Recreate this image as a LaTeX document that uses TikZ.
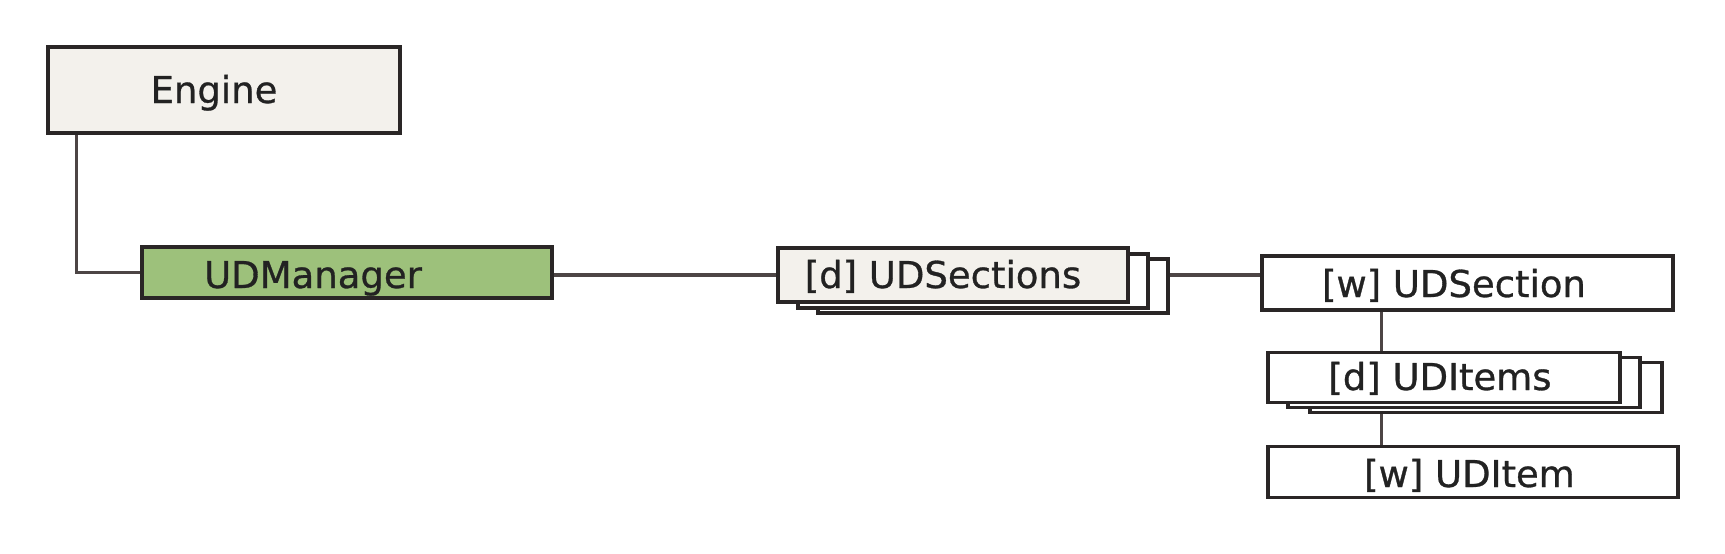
\documentclass[tikz,border=0pt]{standalone}
\usepackage{fontspec}
\setmainfont{DejaVu Sans}
\newfontfamily\lblfont{DejaVu Sans}[FakeBold=0.8]
\usetikzlibrary{calc}
\definecolor{boxline}{HTML}{2A2626}
\definecolor{conn}{HTML}{4D4545}
\definecolor{beige}{HTML}{F3F1EC}
\definecolor{mgrgreen}{HTML}{9DC17B}
\definecolor{txt}{HTML}{222222}
\tikzset{
  box/.style={draw=boxline, line width=3.5pt, inner sep=0pt, fill=white},
  lbl/.style={inner sep=0pt, anchor=base, text=txt, font=\lblfont\fontsize{37}{44}\selectfont},
  wire/.style={draw=conn, line width=3.5pt}
}
\begin{document}
\begin{tikzpicture}[x=1pt,y=1pt]
\useasboundingbox (0,0) rectangle (1725,-554);
% Engine
\node[box, fill=beige, minimum width=352pt, minimum height=86pt] (eng) at (224,-90) {};
\node[lbl] (engt) at (214,-103) {Engine};
% UDManager
\node[box, fill=mgrgreen, minimum width=410pt, minimum height=51pt] (mgr) at (347,-272.5) {};
\node[lbl] (mgrt) at (313,-288) {UDManager};
% UDSections stack
\node[box, minimum width=350pt, minimum height=54pt] (sec3) at (993,-286) {};
\node[box, minimum width=350pt, minimum height=54pt] (sec2) at (973,-281) {};
\node[box, fill=beige, minimum width=350pt, minimum height=54pt] (sec1) at (953,-275) {};
\node[lbl] (sect) at (943,-288) {[d] UDSections};
% UDSection
\node[box, minimum width=411pt, minimum height=54pt] (usec) at (1467.5,-283) {};
\node[lbl] (usect) at (1454,-297) {[w] UDSection};
% UDItems stack
\node[box, minimum width=352pt, minimum height=50pt] (it3) at (1486,-387.5) {};
\node[box, minimum width=352pt, minimum height=50pt] (it2) at (1464,-382.5) {};
\node[box, minimum width=352pt, minimum height=50pt] (it1) at (1444,-377.5) {};
\node[lbl] (itt) at (1440,-390) {[d] UDItems};
% UDItem
\node[box, minimum width=410pt, minimum height=51pt] (item) at (1473,-472) {};
\node[lbl] (itemt) at (1469.5,-487) {[w] UDItem};
% connectors
\coordinate (engdrop) at ($(eng.south west)+(30,0)$);
\draw[wire] (engdrop) |- (mgr.west);
\draw[wire] (sec1.west -| mgr.east) -- (sec1.west);
\draw[wire] (sec1.east -| sec3.east) -- (sec1.east -| usec.west);
\coordinate (usecdrop) at ($(usec.south west)+(121,0)$);
\draw[wire] (usecdrop) -- (usecdrop |- it1.north);
\coordinate (itdrop) at (usecdrop |- it3.south);
\draw[wire] (itdrop) -- (itdrop |- item.north);
\end{tikzpicture}
\end{document}
